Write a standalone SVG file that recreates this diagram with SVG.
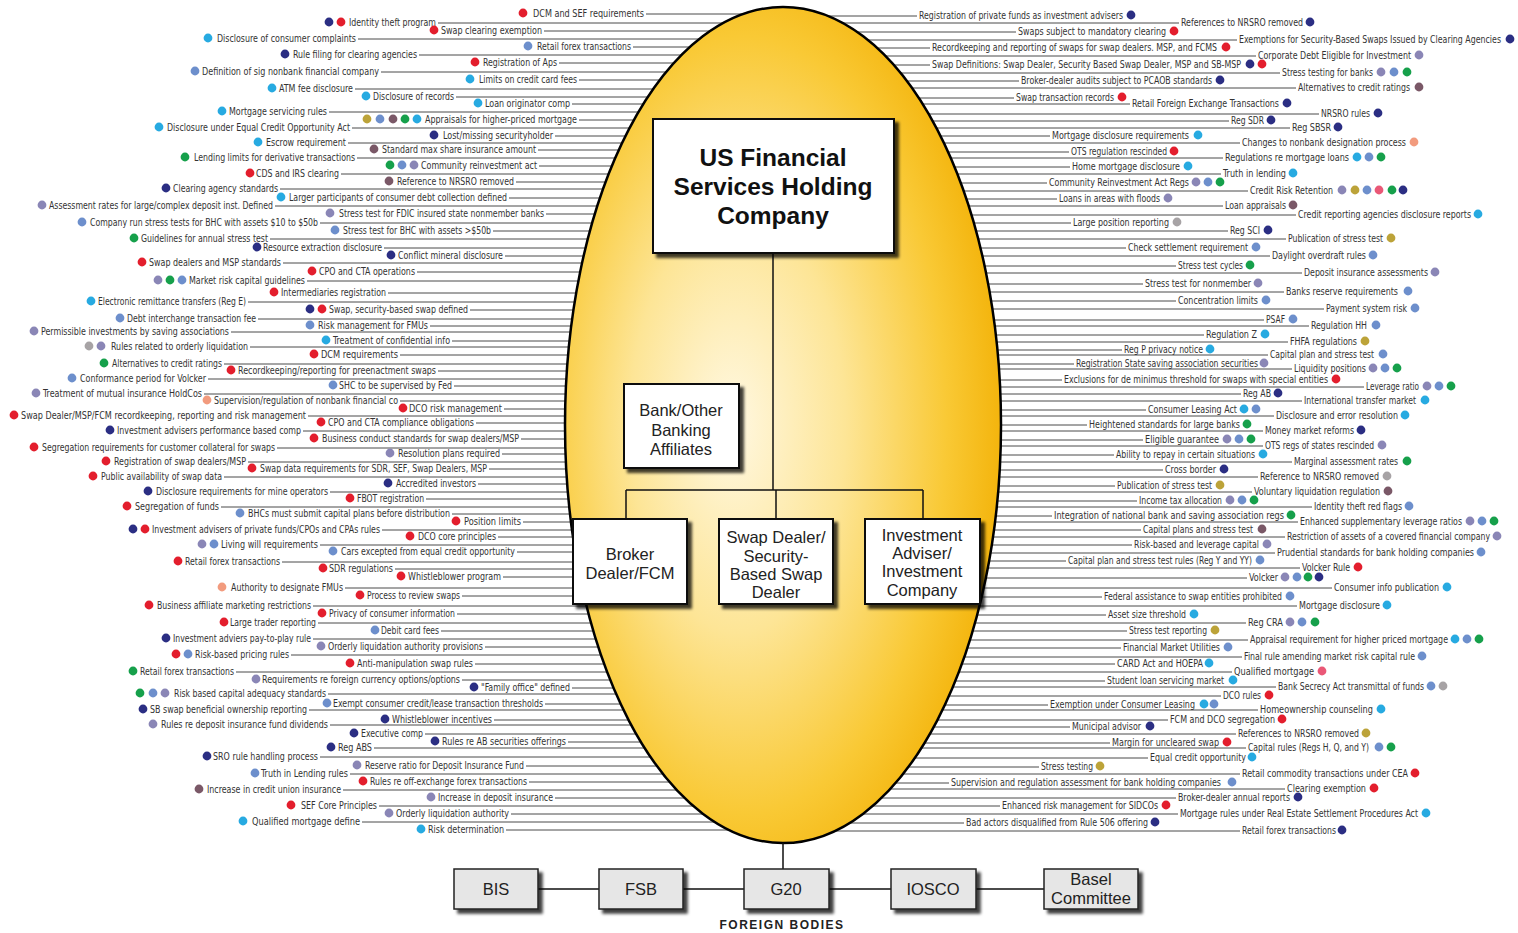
<svg xmlns="http://www.w3.org/2000/svg" width="1518" height="933" viewBox="0 0 1518 933">
<defs>
<radialGradient id="eggG" cx="0.42" cy="0.5" r="0.62" fx="0.38" fy="0.5">
<stop offset="0" stop-color="#FFF8E2"/>
<stop offset="0.4" stop-color="#FDE596"/>
<stop offset="0.75" stop-color="#F9C935"/>
<stop offset="1" stop-color="#F2AE00"/>
</radialGradient>
<filter id="sh" x="-10%" y="-10%" width="130%" height="130%">
<feDropShadow dx="4" dy="4" stdDeviation="1.8" flood-color="#000" flood-opacity="0.75"/>
</filter>
<style>
.lb text{font-family:"Liberation Sans Narrow","DejaVu Sans Condensed","Liberation Sans",sans-serif;font-size:10.5px;fill:#333;}
.r{fill:#E31E2D}.n{fill:#2B2E83}.c{fill:#27AAE1}.p{fill:#6D8FCC}.l{fill:#8A86B6}.g{fill:#16A04B}.m{fill:#7A5867}.o{fill:#BCA339}.y{fill:#A7A3A5}.s{fill:#F29B7E}.k{fill:#EA5877}
.lb circle{r:4.4px}
.cn{stroke:#4a4a4a;stroke-width:1;fill:none}
.org{stroke:#111;stroke-width:1.5;fill:none}
.box{fill:#fff;stroke:#111;stroke-width:2;filter:url(#sh)}
.fb{fill:#E6E6E6;stroke:#222;stroke-width:1.5;filter:url(#sh)}
.bt{font-family:"Liberation Sans",Arial,sans-serif;font-size:16.5px;fill:#222;text-anchor:middle}
.ht{font-family:"Liberation Sans",Arial,sans-serif;font-size:24.5px;font-weight:bold;fill:#111;text-anchor:middle}
</style>
</defs>
<rect width="1518" height="933" fill="#fff"/>
<g id="connectors" class="cn">
<path d="M646 14H783M438 23H783M544 31H783M358 39H783M633 47H783M419 55H783M559 63H783M381 72H783M579 80H783M355 89H783M456 97H783M572 104H783M329 112H783M579 120H783M352 128H783M555 136H783M348 143H783M538 150H783M357 158H783M539 166H783M341 174H783M516 182H783M280 189H783M509 198H783M275 206H783M546 214H783M320 223H783M493 231H783M270 239H783M384 248H783M505 256H783M283 263H783M417 272H783M307 281H783M388 293H783M248 302H783M470 310H783M258 319H783M430 326H783M231 332H783M452 341H783M250 347H783M400 355H783M224 364H783M438 371H783M208 379H783M454 386H783M204 394H783M400 401H783M504 409H783M308 416H783M476 423H783M303 431H783M521 439H783M277 448H783M502 454H783M248 462H783M489 469H783M224 477H783M478 484H783M330 492H783M426 499H783M221 507H783M452 514H783M523 522H783M382 530H783M498 537H783M320 545H783M517 552H783M282 562H783M395 569H783M503 577H783M345 588H783M462 596H783M313 606H783M457 614H783M318 623H783M441 631H783M313 639H783M485 647H783M291 655H783M475 664H783M236 672H783M462 680H783M572 688H783M328 694H783M545 704H783M309 710H783M494 720H783M330 725H783M425 734H783M568 742H783M374 748H783M320 757H783M526 766H783M350 774H783M529 782H783M343 790H783M555 798H783M379 806H783M511 814H783M362 822H783M506 830H783"/>
<path d="M783 16H917M783 23H1179M783 32H1016M783 40H1237M783 48H930M783 56H1256M783 65H930M783 73H1280M783 81H1019M783 88H1296M783 98H1014M783 104H1130M783 114H1319M783 121H1229M783 128H1290M783 136H1050M783 143H1240M783 152H1069M783 158H1223M783 167H1070M783 174H1221M783 183H1047M783 191H1248M783 199H1057M783 206H1223M783 215H1296M783 223H1071M783 231H1228M783 239H1286M783 248H1126M783 256H1270M783 266H1176M783 273H1302M783 284H1143M783 292H1284M783 301H1176M783 309H1324M783 320H1264M783 326H1309M783 335H1204M783 342H1288M783 350H1122M783 355H1268M783 364H1074M783 369H1292M783 380H1062M783 387H1364M783 394H1241M783 401H1302M783 410H1146M783 416H1274M783 425H1087M783 431H1263M783 440H1143M783 446H1263M783 455H1114M783 462H1292M783 470H1163M783 477H1258M783 486H1115M783 492H1252M783 501H1137M783 507H1312M783 516H1052M783 522H1298M783 530H1141M783 537H1285M783 545H1132M783 553H1275M783 561H1066M783 568H1300M783 578H1247M783 588H1332M783 597H1102M783 606H1297M783 615H1106M783 623H1246M783 631H1127M783 640H1248M783 648H1121M783 657H1242M783 664H1115M783 672H1232M783 681H1105M783 687H1276M783 696H1221M783 705H1048M783 710H1258M783 720H1168M783 727H1070M783 734H1236M783 743H1110M783 748H1246M783 758H1148M783 767H1039M783 774H1240M783 783H949M783 789H1285M783 798H1176M783 806H1000M783 814H1178M783 823H964M783 831H1240"/>
</g>
<g id="egg"><ellipse cx="783" cy="425" rx="218" ry="418" fill="url(#eggG)" stroke="#000" stroke-width="2.5"/></g>
<g id="org-connectors" class="org">
<path d="M773 253V490M626 490H923M626 490V519M776 490V519M923 490V519"/>
<path d="M783 843V869M538 889H599M683 889H744M829 889H891M976 889H1044"/>
</g>
<g id="holding"><rect class="box" x="653" y="119" width="241" height="134"/><text class="ht" x="773" y="166">US Financial</text><text class="ht" x="773" y="195">Services Holding</text><text class="ht" x="773" y="224">Company</text></g>
<g id="bank"><rect class="box" x="624" y="384" width="115" height="84"/><text class="bt" x="681" y="416">Bank/Other</text><text class="bt" x="681" y="436">Banking</text><text class="bt" x="681" y="455">Affiliates</text></g>
<g id="broker"><rect class="box" x="573" y="519" width="114" height="85"/><text class="bt" x="630" y="560">Broker</text><text class="bt" x="630" y="579">Dealer/FCM</text></g>
<g id="swap"><rect class="box" x="719" y="519" width="114" height="85"/><text class="bt" x="776" y="543">Swap Dealer/</text><text class="bt" x="776" y="562">Security-</text><text class="bt" x="776" y="580">Based Swap</text><text class="bt" x="776" y="598">Dealer</text></g>
<g id="invest"><rect class="box" x="865" y="519" width="115" height="85"/><text class="bt" x="922" y="541">Investment</text><text class="bt" x="922" y="559">Adviser/</text><text class="bt" x="922" y="577">Investment</text><text class="bt" x="922" y="596">Company</text></g>
<g id="bis"><rect class="fb" x="454" y="869" width="84" height="40"/><text class="bt" x="496" y="895">BIS</text></g>
<g id="fsb"><rect class="fb" x="599" y="869" width="84" height="40"/><text class="bt" x="641" y="895">FSB</text></g>
<g id="g20"><rect class="fb" x="744" y="869" width="85" height="40"/><text class="bt" x="786" y="895">G20</text></g>
<g id="iosco"><rect class="fb" x="891" y="869" width="85" height="40"/><text class="bt" x="933" y="895">IOSCO</text></g>
<g id="basel"><rect class="fb" x="1044" y="869" width="94" height="40"/><text class="bt" x="1091" y="885">Basel</text><text class="bt" x="1091" y="904">Committee</text></g>
<text x="782" y="929" text-anchor="middle" font-family="Liberation Sans,Arial,sans-serif" font-weight="bold" font-size="12" letter-spacing="1.5" fill="#222">FOREIGN BODIES</text>
<g class="lb">
<g id="L1"><circle class="r" cx="523" cy="13"/><text x="533" y="16.5" textLength="111" lengthAdjust="spacingAndGlyphs">DCM and SEF requirements</text></g>
<g id="L2"><circle class="n" cx="329" cy="22"/><circle class="r" cx="341" cy="22"/><text x="349" y="25.5" textLength="87" lengthAdjust="spacingAndGlyphs">Identity theft program</text></g>
<g id="L3"><circle class="r" cx="434" cy="30"/><text x="441" y="33.5" textLength="101" lengthAdjust="spacingAndGlyphs">Swap clearing exemption</text></g>
<g id="L4"><circle class="c" cx="208" cy="38"/><text x="217" y="41.5" textLength="139" lengthAdjust="spacingAndGlyphs">Disclosure of consumer complaints</text></g>
<g id="L5"><circle class="p" cx="528" cy="46"/><text x="537" y="49.5" textLength="94" lengthAdjust="spacingAndGlyphs">Retail forex transactions</text></g>
<g id="L6"><circle class="n" cx="285" cy="54"/><text x="293" y="57.5" textLength="124" lengthAdjust="spacingAndGlyphs">Rule filing for clearing agencies</text></g>
<g id="L7"><circle class="r" cx="475" cy="62"/><text x="483" y="65.5" textLength="74" lengthAdjust="spacingAndGlyphs">Registration of Aps</text></g>
<g id="L8"><circle class="p" cx="195" cy="71"/><text x="202" y="74.5" textLength="177" lengthAdjust="spacingAndGlyphs">Definition of sig nonbank financial company</text></g>
<g id="L9"><circle class="c" cx="470" cy="79"/><text x="479" y="82.5" textLength="98" lengthAdjust="spacingAndGlyphs">Limits on credit card fees</text></g>
<g id="L10"><circle class="c" cx="272" cy="88"/><text x="279" y="91.5" textLength="74" lengthAdjust="spacingAndGlyphs">ATM fee disclosure</text></g>
<g id="L11"><circle class="c" cx="366" cy="96"/><text x="373" y="99.5" textLength="81" lengthAdjust="spacingAndGlyphs">Disclosure of records</text></g>
<g id="L12"><circle class="c" cx="478" cy="103"/><text x="485" y="106.5" textLength="85" lengthAdjust="spacingAndGlyphs">Loan originator comp</text></g>
<g id="L13"><circle class="c" cx="222" cy="111"/><text x="229" y="114.5" textLength="98" lengthAdjust="spacingAndGlyphs">Mortgage servicing rules</text></g>
<g id="L14"><circle class="o" cx="367" cy="119"/><circle class="p" cx="380" cy="119"/><circle class="m" cx="393" cy="119"/><circle class="g" cx="405" cy="119"/><circle class="c" cx="417" cy="119"/><text x="425" y="122.5" textLength="152" lengthAdjust="spacingAndGlyphs">Appraisals for higher-priced mortgage</text></g>
<g id="L15"><circle class="c" cx="159" cy="127"/><text x="167" y="130.5" textLength="183" lengthAdjust="spacingAndGlyphs">Disclosure under Equal Credit Opportunity Act</text></g>
<g id="L16"><circle class="n" cx="434" cy="135"/><text x="443" y="138.5" textLength="110" lengthAdjust="spacingAndGlyphs">Lost/missing securityholder</text></g>
<g id="L17"><circle class="c" cx="258" cy="142"/><text x="266" y="145.5" textLength="80" lengthAdjust="spacingAndGlyphs">Escrow requirement</text></g>
<g id="L18"><circle class="m" cx="374" cy="149"/><text x="382" y="152.5" textLength="154" lengthAdjust="spacingAndGlyphs">Standard max share insurance amount</text></g>
<g id="L19"><circle class="g" cx="185" cy="157"/><text x="194" y="160.5" textLength="161" lengthAdjust="spacingAndGlyphs">Lending limits for derivative transactions</text></g>
<g id="L20"><circle class="g" cx="390" cy="165"/><circle class="p" cx="402" cy="165"/><circle class="l" cx="414" cy="165"/><text x="421" y="168.5" textLength="116" lengthAdjust="spacingAndGlyphs">Community reinvestment act</text></g>
<g id="L21"><circle class="r" cx="250" cy="173"/><text x="256" y="176.5" textLength="83" lengthAdjust="spacingAndGlyphs">CDS and IRS clearing</text></g>
<g id="L22"><circle class="m" cx="389" cy="181"/><text x="397" y="184.5" textLength="117" lengthAdjust="spacingAndGlyphs">Reference to NRSRO removed</text></g>
<g id="L23"><circle class="n" cx="166" cy="188"/><text x="173" y="191.5" textLength="105" lengthAdjust="spacingAndGlyphs">Clearing agency standards</text></g>
<g id="L24"><circle class="c" cx="281" cy="197"/><text x="289" y="200.5" textLength="218" lengthAdjust="spacingAndGlyphs">Larger participants of consumer debt collection defined</text></g>
<g id="L25"><circle class="l" cx="42" cy="205"/><text x="49" y="208.5" textLength="224" lengthAdjust="spacingAndGlyphs">Assessment rates for large/complex deposit inst. Defined</text></g>
<g id="L26"><circle class="l" cx="330" cy="213"/><text x="339" y="216.5" textLength="205" lengthAdjust="spacingAndGlyphs">Stress test for FDIC insured state nonmember banks</text></g>
<g id="L27"><circle class="p" cx="82" cy="222"/><text x="90" y="225.5" textLength="228" lengthAdjust="spacingAndGlyphs">Company run stress tests for BHC with assets $10 to $50b</text></g>
<g id="L28"><circle class="p" cx="335" cy="230"/><text x="343" y="233.5" textLength="148" lengthAdjust="spacingAndGlyphs">Stress test for BHC with assets &gt;$50b</text></g>
<g id="L29"><circle class="g" cx="134" cy="238"/><text x="141" y="241.5" textLength="127" lengthAdjust="spacingAndGlyphs">Guidelines for annual stress test</text></g>
<g id="L30"><circle class="n" cx="257" cy="247"/><text x="263" y="250.5" textLength="119" lengthAdjust="spacingAndGlyphs">Resource extraction disclosure</text></g>
<g id="L31"><circle class="n" cx="391" cy="255"/><text x="398" y="258.5" textLength="105" lengthAdjust="spacingAndGlyphs">Conflict mineral disclosure</text></g>
<g id="L32"><circle class="r" cx="142" cy="262"/><text x="149" y="265.5" textLength="132" lengthAdjust="spacingAndGlyphs">Swap dealers and MSP standards</text></g>
<g id="L33"><circle class="r" cx="312" cy="271"/><text x="319" y="274.5" textLength="96" lengthAdjust="spacingAndGlyphs">CPO and CTA operations</text></g>
<g id="L34"><circle class="l" cx="158" cy="280"/><circle class="g" cx="170" cy="280"/><circle class="p" cx="182" cy="280"/><text x="189" y="283.5" textLength="116" lengthAdjust="spacingAndGlyphs">Market risk capital guidelines</text></g>
<g id="L35"><circle class="r" cx="274" cy="292"/><text x="281" y="295.5" textLength="105" lengthAdjust="spacingAndGlyphs">Intermediaries registration</text></g>
<g id="L36"><circle class="c" cx="91" cy="301"/><text x="98" y="304.5" textLength="148" lengthAdjust="spacingAndGlyphs">Electronic remittance transfers (Reg E)</text></g>
<g id="L37"><circle class="n" cx="310" cy="309"/><circle class="r" cx="322" cy="309"/><text x="329" y="312.5" textLength="139" lengthAdjust="spacingAndGlyphs">Swap, security-based swap defined</text></g>
<g id="L38"><circle class="p" cx="120" cy="318"/><text x="127" y="321.5" textLength="129" lengthAdjust="spacingAndGlyphs">Debt interchange transaction fee</text></g>
<g id="L39"><circle class="p" cx="310" cy="325"/><text x="318" y="328.5" textLength="110" lengthAdjust="spacingAndGlyphs">Risk management for FMUs</text></g>
<g id="L40"><circle class="l" cx="34" cy="331"/><text x="41" y="334.5" textLength="188" lengthAdjust="spacingAndGlyphs">Permissible investments by saving associations</text></g>
<g id="L41"><circle class="c" cx="326" cy="340"/><text x="333" y="343.5" textLength="117" lengthAdjust="spacingAndGlyphs">Treatment of confidential info</text></g>
<g id="L42"><circle class="y" cx="89" cy="346"/><circle class="l" cx="101" cy="346"/><text x="111" y="349.5" textLength="137" lengthAdjust="spacingAndGlyphs">Rules related to orderly liquidation</text></g>
<g id="L43"><circle class="r" cx="314" cy="354"/><text x="321" y="357.5" textLength="77" lengthAdjust="spacingAndGlyphs">DCM requirements</text></g>
<g id="L44"><circle class="g" cx="104" cy="363"/><text x="112" y="366.5" textLength="110" lengthAdjust="spacingAndGlyphs">Alternatives to credit ratings</text></g>
<g id="L45"><circle class="r" cx="231" cy="370"/><text x="238" y="373.5" textLength="198" lengthAdjust="spacingAndGlyphs">Recordkeeping/reporting for preenactment swaps</text></g>
<g id="L46"><circle class="p" cx="72" cy="378"/><text x="80" y="381.5" textLength="126" lengthAdjust="spacingAndGlyphs">Conformance period for Volcker</text></g>
<g id="L47"><circle class="p" cx="333" cy="385"/><text x="339" y="388.5" textLength="113" lengthAdjust="spacingAndGlyphs">SHC to be supervised by Fed</text></g>
<g id="L48"><circle class="l" cx="36" cy="393"/><text x="43" y="396.5" textLength="159" lengthAdjust="spacingAndGlyphs">Treatment of mutual insurance HoldCos</text></g>
<g id="L49"><circle class="s" cx="207" cy="400"/><text x="214" y="403.5" textLength="184" lengthAdjust="spacingAndGlyphs">Supervision/regulation of nonbank financial co</text></g>
<g id="L50"><circle class="r" cx="403" cy="408"/><text x="409" y="411.5" textLength="93" lengthAdjust="spacingAndGlyphs">DCO risk management</text></g>
<g id="L51"><circle class="r" cx="14" cy="415"/><text x="21" y="418.5" textLength="285" lengthAdjust="spacingAndGlyphs">Swap Dealer/MSP/FCM recordkeeping, reporting and risk management</text></g>
<g id="L52"><circle class="r" cx="321" cy="422"/><text x="328" y="425.5" textLength="146" lengthAdjust="spacingAndGlyphs">CPO and CTA compliance obligations</text></g>
<g id="L53"><circle class="n" cx="110" cy="430"/><text x="117" y="433.5" textLength="184" lengthAdjust="spacingAndGlyphs">Investment advisers performance based comp</text></g>
<g id="L54"><circle class="r" cx="314" cy="438"/><text x="322" y="441.5" textLength="197" lengthAdjust="spacingAndGlyphs">Business conduct standards for swap dealers/MSP</text></g>
<g id="L55"><circle class="r" cx="34" cy="447"/><text x="42" y="450.5" textLength="233" lengthAdjust="spacingAndGlyphs">Segregation requirements for customer collateral for swaps</text></g>
<g id="L56"><circle class="l" cx="390" cy="453"/><text x="398" y="456.5" textLength="102" lengthAdjust="spacingAndGlyphs">Resolution plans required</text></g>
<g id="L57"><circle class="r" cx="106" cy="461"/><text x="114" y="464.5" textLength="132" lengthAdjust="spacingAndGlyphs">Registration of swap dealers/MSP</text></g>
<g id="L58"><circle class="r" cx="252" cy="468"/><text x="260" y="471.5" textLength="227" lengthAdjust="spacingAndGlyphs">Swap data requirements for SDR, SEF, Swap Dealers, MSP</text></g>
<g id="L59"><circle class="r" cx="93" cy="476"/><text x="101" y="479.5" textLength="121" lengthAdjust="spacingAndGlyphs">Public availability of swap data</text></g>
<g id="L60"><circle class="n" cx="388" cy="483"/><text x="396" y="486.5" textLength="80" lengthAdjust="spacingAndGlyphs">Accredited investors</text></g>
<g id="L61"><circle class="n" cx="148" cy="491"/><text x="156" y="494.5" textLength="172" lengthAdjust="spacingAndGlyphs">Disclosure requirements for mine operators</text></g>
<g id="L62"><circle class="r" cx="350" cy="498"/><text x="357" y="501.5" textLength="67" lengthAdjust="spacingAndGlyphs">FBOT registration</text></g>
<g id="L63"><circle class="r" cx="127" cy="506"/><text x="135" y="509.5" textLength="84" lengthAdjust="spacingAndGlyphs">Segregation of funds</text></g>
<g id="L64"><circle class="p" cx="240" cy="513"/><text x="248" y="516.5" textLength="202" lengthAdjust="spacingAndGlyphs">BHCs must submit capital plans before distribution</text></g>
<g id="L65"><circle class="r" cx="456" cy="521"/><text x="464" y="524.5" textLength="57" lengthAdjust="spacingAndGlyphs">Position limits</text></g>
<g id="L66"><circle class="n" cx="133" cy="529"/><circle class="r" cx="145" cy="529"/><text x="152" y="532.5" textLength="228" lengthAdjust="spacingAndGlyphs">Investment advisers of private funds/CPOs and CPAs rules</text></g>
<g id="L67"><circle class="r" cx="410" cy="536"/><text x="418" y="539.5" textLength="78" lengthAdjust="spacingAndGlyphs">DCO core principles</text></g>
<g id="L68"><circle class="l" cx="202" cy="544"/><circle class="p" cx="214" cy="544"/><text x="221" y="547.5" textLength="97" lengthAdjust="spacingAndGlyphs">Living will requirements</text></g>
<g id="L69"><circle class="p" cx="333" cy="551"/><text x="341" y="554.5" textLength="174" lengthAdjust="spacingAndGlyphs">Cars excepted from equal credit opportunity</text></g>
<g id="L70"><circle class="r" cx="178" cy="561"/><text x="185" y="564.5" textLength="95" lengthAdjust="spacingAndGlyphs">Retail forex transactions</text></g>
<g id="L71"><circle class="r" cx="323" cy="568"/><text x="329" y="571.5" textLength="64" lengthAdjust="spacingAndGlyphs">SDR regulations</text></g>
<g id="L72"><circle class="r" cx="401" cy="576"/><text x="408" y="579.5" textLength="93" lengthAdjust="spacingAndGlyphs">Whistleblower program</text></g>
<g id="L73"><circle class="s" cx="222" cy="587"/><text x="231" y="590.5" textLength="112" lengthAdjust="spacingAndGlyphs">Authority to designate FMUs</text></g>
<g id="L74"><circle class="r" cx="360" cy="595"/><text x="367" y="598.5" textLength="93" lengthAdjust="spacingAndGlyphs">Process to review swaps</text></g>
<g id="L75"><circle class="r" cx="149" cy="605"/><text x="157" y="608.5" textLength="154" lengthAdjust="spacingAndGlyphs">Business affiliate marketing restrictions</text></g>
<g id="L76"><circle class="r" cx="322" cy="613"/><text x="329" y="616.5" textLength="126" lengthAdjust="spacingAndGlyphs">Privacy of consumer information</text></g>
<g id="L77"><circle class="r" cx="224" cy="622"/><text x="230" y="625.5" textLength="86" lengthAdjust="spacingAndGlyphs">Large trader reporting</text></g>
<g id="L78"><circle class="p" cx="375" cy="630"/><text x="381" y="633.5" textLength="58" lengthAdjust="spacingAndGlyphs">Debit card fees</text></g>
<g id="L79"><circle class="n" cx="166" cy="638"/><text x="173" y="641.5" textLength="138" lengthAdjust="spacingAndGlyphs">Investment adviers pay-to-play rule</text></g>
<g id="L80"><circle class="l" cx="321" cy="646"/><text x="328" y="649.5" textLength="155" lengthAdjust="spacingAndGlyphs">Orderly liquidation authority provisions</text></g>
<g id="L81"><circle class="r" cx="176" cy="654"/><circle class="p" cx="188" cy="654"/><text x="195" y="657.5" textLength="94" lengthAdjust="spacingAndGlyphs">Risk-based pricing rules</text></g>
<g id="L82"><circle class="r" cx="350" cy="663"/><text x="357" y="666.5" textLength="116" lengthAdjust="spacingAndGlyphs">Anti-manipulation swap rules</text></g>
<g id="L83"><circle class="g" cx="133" cy="671"/><text x="140" y="674.5" textLength="94" lengthAdjust="spacingAndGlyphs">Retail forex transactions</text></g>
<g id="L84"><circle class="l" cx="256" cy="679"/><text x="262" y="682.5" textLength="198" lengthAdjust="spacingAndGlyphs">Requirements re foreign currency options/options</text></g>
<g id="L85"><circle class="n" cx="474" cy="687"/><text x="481" y="690.5" textLength="89" lengthAdjust="spacingAndGlyphs">"Family office" defined</text></g>
<g id="L86"><circle class="g" cx="140" cy="693"/><circle class="p" cx="153" cy="693"/><circle class="l" cx="165" cy="693"/><text x="174" y="696.5" textLength="152" lengthAdjust="spacingAndGlyphs">Risk based capital adequacy standards</text></g>
<g id="L87"><circle class="p" cx="327" cy="703"/><text x="333" y="706.5" textLength="210" lengthAdjust="spacingAndGlyphs">Exempt consumer credit/lease transaction thresholds</text></g>
<g id="L88"><circle class="n" cx="143" cy="709"/><text x="150" y="712.5" textLength="157" lengthAdjust="spacingAndGlyphs">SB swap beneficial ownership reporting</text></g>
<g id="L89"><circle class="n" cx="385" cy="719"/><text x="392" y="722.5" textLength="100" lengthAdjust="spacingAndGlyphs">Whistleblower incentives</text></g>
<g id="L90"><circle class="l" cx="153" cy="724"/><text x="161" y="727.5" textLength="167" lengthAdjust="spacingAndGlyphs">Rules re deposit insurance fund dividends</text></g>
<g id="L91"><circle class="n" cx="354" cy="733"/><text x="361" y="736.5" textLength="62" lengthAdjust="spacingAndGlyphs">Executive comp</text></g>
<g id="L92"><circle class="n" cx="435" cy="741"/><text x="442" y="744.5" textLength="124" lengthAdjust="spacingAndGlyphs">Rules re AB securities offerings</text></g>
<g id="L93"><circle class="n" cx="331" cy="747"/><text x="338" y="750.5" textLength="34" lengthAdjust="spacingAndGlyphs">Reg ABS</text></g>
<g id="L94"><circle class="n" cx="207" cy="756"/><text x="213" y="759.5" textLength="105" lengthAdjust="spacingAndGlyphs">SRO rule handling process</text></g>
<g id="L95"><circle class="l" cx="357" cy="765"/><text x="365" y="768.5" textLength="159" lengthAdjust="spacingAndGlyphs">Reserve ratio for Deposit Insurance Fund</text></g>
<g id="L96"><circle class="p" cx="255" cy="773"/><text x="261" y="776.5" textLength="87" lengthAdjust="spacingAndGlyphs">Truth in Lending rules</text></g>
<g id="L97"><circle class="r" cx="363" cy="781"/><text x="370" y="784.5" textLength="157" lengthAdjust="spacingAndGlyphs">Rules re off-exchange forex transactions</text></g>
<g id="L98"><circle class="m" cx="199" cy="789"/><text x="207" y="792.5" textLength="134" lengthAdjust="spacingAndGlyphs">Increase in credit union insurance</text></g>
<g id="L99"><circle class="l" cx="431" cy="797"/><text x="438" y="800.5" textLength="115" lengthAdjust="spacingAndGlyphs">Increase in deposit insurance</text></g>
<g id="L100"><circle class="r" cx="291" cy="805"/><text x="301" y="808.5" textLength="76" lengthAdjust="spacingAndGlyphs">SEF Core Principles</text></g>
<g id="L101"><circle class="l" cx="389" cy="813"/><text x="396" y="816.5" textLength="113" lengthAdjust="spacingAndGlyphs">Orderly liquidation authority</text></g>
<g id="L102"><circle class="c" cx="243" cy="821"/><text x="252" y="824.5" textLength="108" lengthAdjust="spacingAndGlyphs">Qualified mortgage define</text></g>
<g id="L103"><circle class="c" cx="421" cy="829"/><text x="428" y="832.5" textLength="76" lengthAdjust="spacingAndGlyphs">Risk determination</text></g>

<g id="R1"><text x="919" y="18.5" textLength="204" lengthAdjust="spacingAndGlyphs">Registration of private funds as investment advisers</text><circle class="n" cx="1131" cy="15"/></g>
<g id="R2"><text x="1181" y="25.5" textLength="122" lengthAdjust="spacingAndGlyphs">References to NRSRO removed</text><circle class="n" cx="1310" cy="22"/></g>
<g id="R3"><text x="1018" y="34.5" textLength="148" lengthAdjust="spacingAndGlyphs">Swaps subject to mandatory clearing</text><circle class="r" cx="1174" cy="31"/></g>
<g id="R4"><text x="1239" y="42.5" textLength="262" lengthAdjust="spacingAndGlyphs">Exemptions for Security-Based Swaps Issued by Clearing Agencies</text><circle class="n" cx="1510" cy="39"/></g>
<g id="R5"><text x="932" y="50.5" textLength="285" lengthAdjust="spacingAndGlyphs">Recordkeeping and reporting of swaps for swap dealers. MSP, and FCMS</text><circle class="r" cx="1226" cy="47"/></g>
<g id="R6"><text x="1258" y="58.5" textLength="153" lengthAdjust="spacingAndGlyphs">Corporate Debt Eligible for Investment</text><circle class="l" cx="1419" cy="55"/></g>
<g id="R7"><text x="932" y="67.5" textLength="309" lengthAdjust="spacingAndGlyphs">Swap Definitions: Swap Dealer, Security Based Swap Dealer, MSP and SB-MSP</text><circle class="n" cx="1250" cy="64"/><circle class="r" cx="1262" cy="64"/></g>
<g id="R8"><text x="1282" y="75.5" textLength="91" lengthAdjust="spacingAndGlyphs">Stress testing for banks</text><circle class="l" cx="1381" cy="72"/><circle class="p" cx="1394" cy="72"/><circle class="g" cx="1407" cy="72"/></g>
<g id="R9"><text x="1021" y="83.5" textLength="191" lengthAdjust="spacingAndGlyphs">Broker-dealer audits subject to PCAOB standards</text><circle class="n" cx="1220" cy="80"/></g>
<g id="R10"><text x="1298" y="90.5" textLength="112" lengthAdjust="spacingAndGlyphs">Alternatives to credit ratings</text><circle class="m" cx="1419" cy="87"/></g>
<g id="R11"><text x="1016" y="100.5" textLength="98" lengthAdjust="spacingAndGlyphs">Swap transaction records</text><circle class="r" cx="1122" cy="97"/></g>
<g id="R12"><text x="1132" y="106.5" textLength="147" lengthAdjust="spacingAndGlyphs">Retail Foreign Exchange Transactions</text><circle class="n" cx="1287" cy="103"/></g>
<g id="R13"><text x="1321" y="116.5" textLength="49" lengthAdjust="spacingAndGlyphs">NRSRO rules</text><circle class="n" cx="1378" cy="113"/></g>
<g id="R14"><text x="1231" y="123.5" textLength="33" lengthAdjust="spacingAndGlyphs">Reg SDR</text><circle class="n" cx="1271" cy="120"/></g>
<g id="R15"><text x="1292" y="130.5" textLength="39" lengthAdjust="spacingAndGlyphs">Reg SBSR</text><circle class="n" cx="1338" cy="127"/></g>
<g id="R16"><text x="1052" y="138.5" textLength="137" lengthAdjust="spacingAndGlyphs">Mortgage disclosure requirements</text><circle class="c" cx="1198" cy="135"/></g>
<g id="R17"><text x="1242" y="145.5" textLength="164" lengthAdjust="spacingAndGlyphs">Changes to nonbank designation process</text><circle class="s" cx="1414" cy="142"/></g>
<g id="R18"><text x="1071" y="154.5" textLength="96" lengthAdjust="spacingAndGlyphs">OTS regulation rescinded</text><circle class="r" cx="1174" cy="151"/></g>
<g id="R19"><text x="1225" y="160.5" textLength="124" lengthAdjust="spacingAndGlyphs">Regulations re mortgage loans</text><circle class="c" cx="1357" cy="157"/><circle class="p" cx="1369" cy="157"/><circle class="g" cx="1381" cy="157"/></g>
<g id="R20"><text x="1072" y="169.5" textLength="108" lengthAdjust="spacingAndGlyphs">Home mortgage disclosure</text><circle class="c" cx="1188" cy="166"/></g>
<g id="R21"><text x="1223" y="176.5" textLength="63" lengthAdjust="spacingAndGlyphs">Truth in lending</text><circle class="c" cx="1293" cy="173"/></g>
<g id="R22"><text x="1049" y="185.5" textLength="140" lengthAdjust="spacingAndGlyphs">Community Reinvestment Act Regs</text><circle class="l" cx="1196" cy="182"/><circle class="p" cx="1208" cy="182"/><circle class="g" cx="1220" cy="182"/></g>
<g id="R23"><text x="1250" y="193.5" textLength="83" lengthAdjust="spacingAndGlyphs">Credit Risk Retention</text><circle class="l" cx="1342" cy="190"/><circle class="o" cx="1355" cy="190"/><circle class="p" cx="1367" cy="190"/><circle class="k" cx="1379" cy="190"/><circle class="g" cx="1392" cy="190"/><circle class="n" cx="1403" cy="190"/></g>
<g id="R24"><text x="1059" y="201.5" textLength="101" lengthAdjust="spacingAndGlyphs">Loans in areas with floods</text><circle class="l" cx="1168" cy="198"/></g>
<g id="R25"><text x="1225" y="208.5" textLength="61" lengthAdjust="spacingAndGlyphs">Loan appraisals</text><circle class="m" cx="1293" cy="205"/></g>
<g id="R26"><text x="1298" y="217.5" textLength="173" lengthAdjust="spacingAndGlyphs">Credit reporting agencies disclosure reports</text><circle class="c" cx="1478" cy="214"/></g>
<g id="R27"><text x="1073" y="225.5" textLength="96" lengthAdjust="spacingAndGlyphs">Large position reporting</text><circle class="y" cx="1177" cy="222"/></g>
<g id="R28"><text x="1230" y="233.5" textLength="30" lengthAdjust="spacingAndGlyphs">Reg SCI</text><circle class="n" cx="1268" cy="230"/></g>
<g id="R29"><text x="1288" y="241.5" textLength="95" lengthAdjust="spacingAndGlyphs">Publication of stress test</text><circle class="o" cx="1391" cy="238"/></g>
<g id="R30"><text x="1128" y="250.5" textLength="120" lengthAdjust="spacingAndGlyphs">Check settlement requirement</text><circle class="p" cx="1256" cy="247"/></g>
<g id="R31"><text x="1272" y="258.5" textLength="94" lengthAdjust="spacingAndGlyphs">Daylight overdraft rules</text><circle class="p" cx="1373" cy="255"/></g>
<g id="R32"><text x="1178" y="268.5" textLength="65" lengthAdjust="spacingAndGlyphs">Stress test cycles</text><circle class="g" cx="1250" cy="265"/></g>
<g id="R33"><text x="1304" y="275.5" textLength="124" lengthAdjust="spacingAndGlyphs">Deposit insurance assessments</text><circle class="l" cx="1435" cy="272"/></g>
<g id="R34"><text x="1145" y="286.5" textLength="106" lengthAdjust="spacingAndGlyphs">Stress test for nonmember</text><circle class="l" cx="1258" cy="283"/></g>
<g id="R35"><text x="1286" y="294.5" textLength="112" lengthAdjust="spacingAndGlyphs">Banks reserve requirements</text><circle class="p" cx="1408" cy="291"/></g>
<g id="R36"><text x="1178" y="303.5" textLength="80" lengthAdjust="spacingAndGlyphs">Concentration limits</text><circle class="p" cx="1266" cy="300"/></g>
<g id="R37"><text x="1326" y="311.5" textLength="81" lengthAdjust="spacingAndGlyphs">Payment system risk</text><circle class="p" cx="1415" cy="308"/></g>
<g id="R38"><text x="1266" y="322.5" textLength="19" lengthAdjust="spacingAndGlyphs">PSAF</text><circle class="p" cx="1293" cy="319"/></g>
<g id="R39"><text x="1311" y="328.5" textLength="56" lengthAdjust="spacingAndGlyphs">Regulation HH</text><circle class="p" cx="1376" cy="325"/></g>
<g id="R40"><text x="1206" y="337.5" textLength="51" lengthAdjust="spacingAndGlyphs">Regulation Z</text><circle class="c" cx="1265" cy="334"/></g>
<g id="R41"><text x="1290" y="344.5" textLength="67" lengthAdjust="spacingAndGlyphs">FHFA regulations</text><circle class="o" cx="1365" cy="341"/></g>
<g id="R42"><text x="1124" y="352.5" textLength="79" lengthAdjust="spacingAndGlyphs">Reg P privacy notice</text><circle class="c" cx="1210" cy="349"/></g>
<g id="R43"><text x="1270" y="357.5" textLength="104" lengthAdjust="spacingAndGlyphs">Capital plan and stress test</text><circle class="p" cx="1383" cy="354"/></g>
<g id="R44"><text x="1076" y="366.5" textLength="182" lengthAdjust="spacingAndGlyphs">Registration State saving association securities</text><circle class="l" cx="1264" cy="363"/></g>
<g id="R45"><text x="1294" y="371.5" textLength="72" lengthAdjust="spacingAndGlyphs">Liquidity positions</text><circle class="l" cx="1373" cy="368"/><circle class="p" cx="1385" cy="368"/><circle class="g" cx="1397" cy="368"/></g>
<g id="R46"><text x="1064" y="382.5" textLength="264" lengthAdjust="spacingAndGlyphs">Exclusions for de minimus threshold for swaps with special entities</text><circle class="r" cx="1336" cy="379"/></g>
<g id="R47"><text x="1366" y="389.5" textLength="53" lengthAdjust="spacingAndGlyphs">Leverage ratio</text><circle class="l" cx="1427" cy="386"/><circle class="p" cx="1439" cy="386"/><circle class="g" cx="1451" cy="386"/></g>
<g id="R48"><text x="1243" y="396.5" textLength="28" lengthAdjust="spacingAndGlyphs">Reg AB</text><circle class="n" cx="1278" cy="393"/></g>
<g id="R49"><text x="1304" y="403.5" textLength="112" lengthAdjust="spacingAndGlyphs">International transfer market</text><circle class="c" cx="1425" cy="400"/></g>
<g id="R50"><text x="1148" y="412.5" textLength="89" lengthAdjust="spacingAndGlyphs">Consumer Leasing Act</text><circle class="c" cx="1244" cy="409"/><circle class="p" cx="1256" cy="409"/></g>
<g id="R51"><text x="1276" y="418.5" textLength="122" lengthAdjust="spacingAndGlyphs">Disclosure and error resolution</text><circle class="c" cx="1405" cy="415"/></g>
<g id="R52"><text x="1089" y="427.5" textLength="151" lengthAdjust="spacingAndGlyphs">Heightened standards for large banks</text><circle class="g" cx="1247" cy="424"/></g>
<g id="R53"><text x="1265" y="433.5" textLength="89" lengthAdjust="spacingAndGlyphs">Money market reforms</text><circle class="n" cx="1361" cy="430"/></g>
<g id="R54"><text x="1145" y="442.5" textLength="74" lengthAdjust="spacingAndGlyphs">Eligible guarantee</text><circle class="l" cx="1227" cy="439"/><circle class="p" cx="1239" cy="439"/><circle class="g" cx="1251" cy="439"/></g>
<g id="R55"><text x="1265" y="448.5" textLength="109" lengthAdjust="spacingAndGlyphs">OTS regs of states rescinded</text><circle class="l" cx="1382" cy="445"/></g>
<g id="R56"><text x="1116" y="457.5" textLength="139" lengthAdjust="spacingAndGlyphs">Ability to repay in certain situations</text><circle class="c" cx="1263" cy="454"/></g>
<g id="R57"><text x="1294" y="464.5" textLength="104" lengthAdjust="spacingAndGlyphs">Marginal assessment rates</text><circle class="g" cx="1407" cy="461"/></g>
<g id="R58"><text x="1165" y="472.5" textLength="51" lengthAdjust="spacingAndGlyphs">Cross border</text><circle class="n" cx="1224" cy="469"/></g>
<g id="R59"><text x="1260" y="479.5" textLength="119" lengthAdjust="spacingAndGlyphs">Reference to NRSRO removed</text><circle class="y" cx="1387" cy="476"/></g>
<g id="R60"><text x="1117" y="488.5" textLength="95" lengthAdjust="spacingAndGlyphs">Publication of stress test</text><circle class="o" cx="1220" cy="485"/></g>
<g id="R61"><text x="1254" y="494.5" textLength="126" lengthAdjust="spacingAndGlyphs">Voluntary liquidation regulation</text><circle class="m" cx="1388" cy="491"/></g>
<g id="R62"><text x="1139" y="503.5" textLength="83" lengthAdjust="spacingAndGlyphs">Income tax allocation</text><circle class="l" cx="1230" cy="500"/><circle class="p" cx="1242" cy="500"/><circle class="g" cx="1254" cy="500"/></g>
<g id="R63"><text x="1314" y="509.5" textLength="88" lengthAdjust="spacingAndGlyphs">Identity theft red flags</text><circle class="p" cx="1409" cy="506"/></g>
<g id="R64"><text x="1054" y="518.5" textLength="230" lengthAdjust="spacingAndGlyphs">Integration of national bank and saving association regs</text><circle class="g" cx="1291" cy="515"/></g>
<g id="R65"><text x="1300" y="524.5" textLength="162" lengthAdjust="spacingAndGlyphs">Enhanced supplementary leverage ratios</text><circle class="l" cx="1470" cy="521"/><circle class="p" cx="1482" cy="521"/><circle class="g" cx="1494" cy="521"/></g>
<g id="R66"><text x="1143" y="532.5" textLength="110" lengthAdjust="spacingAndGlyphs">Capital plans and stress test</text><circle class="m" cx="1262" cy="529"/></g>
<g id="R67"><text x="1287" y="539.5" textLength="203" lengthAdjust="spacingAndGlyphs">Restriction of assets of a covered financial company</text><circle class="l" cx="1497" cy="536"/></g>
<g id="R68"><text x="1134" y="547.5" textLength="125" lengthAdjust="spacingAndGlyphs">Risk-based and leverage capital</text><circle class="l" cx="1267" cy="544"/></g>
<g id="R69"><text x="1277" y="555.5" textLength="197" lengthAdjust="spacingAndGlyphs">Prudential standards for bank holding companies</text><circle class="p" cx="1481" cy="552"/></g>
<g id="R70"><text x="1068" y="563.5" textLength="184" lengthAdjust="spacingAndGlyphs">Capital plan and stress test rules (Reg Y and YY)</text><circle class="p" cx="1260" cy="560"/></g>
<g id="R71"><text x="1302" y="570.5" textLength="48" lengthAdjust="spacingAndGlyphs">Volcker Rule</text><circle class="r" cx="1358" cy="567"/></g>
<g id="R72"><text x="1249" y="580.5" textLength="29" lengthAdjust="spacingAndGlyphs">Volcker</text><circle class="l" cx="1285" cy="577"/><circle class="p" cx="1297" cy="577"/><circle class="g" cx="1308" cy="577"/><circle class="n" cx="1319" cy="577"/></g>
<g id="R73"><text x="1334" y="590.5" textLength="105" lengthAdjust="spacingAndGlyphs">Consumer info publication</text><circle class="c" cx="1447" cy="587"/></g>
<g id="R74"><text x="1104" y="599.5" textLength="178" lengthAdjust="spacingAndGlyphs">Federal assistance to swap entities prohibited</text><circle class="p" cx="1290" cy="596"/></g>
<g id="R75"><text x="1299" y="608.5" textLength="81" lengthAdjust="spacingAndGlyphs">Mortgage disclosure</text><circle class="c" cx="1387" cy="605"/></g>
<g id="R76"><text x="1108" y="617.5" textLength="78" lengthAdjust="spacingAndGlyphs">Asset size threshold</text><circle class="c" cx="1194" cy="614"/></g>
<g id="R77"><text x="1248" y="625.5" textLength="35" lengthAdjust="spacingAndGlyphs">Reg CRA</text><circle class="l" cx="1290" cy="622"/><circle class="p" cx="1302" cy="622"/><circle class="g" cx="1315" cy="622"/></g>
<g id="R78"><text x="1129" y="633.5" textLength="78" lengthAdjust="spacingAndGlyphs">Stress test reporting</text><circle class="o" cx="1215" cy="630"/></g>
<g id="R79"><text x="1250" y="642.5" textLength="198" lengthAdjust="spacingAndGlyphs">Appraisal requirement for higher priced mortgage</text><circle class="c" cx="1455" cy="639"/><circle class="p" cx="1467" cy="639"/><circle class="g" cx="1479" cy="639"/></g>
<g id="R80"><text x="1123" y="650.5" textLength="97" lengthAdjust="spacingAndGlyphs">Financial Market Utilities</text><circle class="p" cx="1228" cy="647"/></g>
<g id="R81"><text x="1244" y="659.5" textLength="171" lengthAdjust="spacingAndGlyphs">Final rule amending market risk capital rule</text><circle class="p" cx="1422" cy="656"/></g>
<g id="R82"><text x="1117" y="666.5" textLength="86" lengthAdjust="spacingAndGlyphs">CARD Act and HOEPA</text><circle class="c" cx="1209" cy="663"/></g>
<g id="R83"><text x="1234" y="674.5" textLength="80" lengthAdjust="spacingAndGlyphs">Qualified mortgage</text><circle class="k" cx="1322" cy="671"/></g>
<g id="R84"><text x="1107" y="683.5" textLength="117" lengthAdjust="spacingAndGlyphs">Student loan servicing market</text><circle class="c" cx="1233" cy="680"/></g>
<g id="R85"><text x="1278" y="689.5" textLength="146" lengthAdjust="spacingAndGlyphs">Bank Secrecy Act transmittal of funds</text><circle class="p" cx="1431" cy="686"/><circle class="y" cx="1443" cy="686"/></g>
<g id="R86"><text x="1223" y="698.5" textLength="38" lengthAdjust="spacingAndGlyphs">DCO rules</text><circle class="r" cx="1269" cy="695"/></g>
<g id="R87"><text x="1050" y="707.5" textLength="145" lengthAdjust="spacingAndGlyphs">Exemption under Consumer Leasing</text><circle class="c" cx="1204" cy="704"/><circle class="p" cx="1214" cy="704"/></g>
<g id="R88"><text x="1260" y="712.5" textLength="113" lengthAdjust="spacingAndGlyphs">Homeownership counseling</text><circle class="c" cx="1381" cy="709"/></g>
<g id="R89"><text x="1170" y="722.5" textLength="105" lengthAdjust="spacingAndGlyphs">FCM and DCO segregation</text><circle class="r" cx="1282" cy="719"/></g>
<g id="R90"><text x="1072" y="729.5" textLength="69" lengthAdjust="spacingAndGlyphs">Municipal advisor</text><circle class="n" cx="1150" cy="726"/></g>
<g id="R91"><text x="1238" y="736.5" textLength="121" lengthAdjust="spacingAndGlyphs">References to NRSRO removed</text><circle class="o" cx="1366" cy="733"/></g>
<g id="R92"><text x="1112" y="745.5" textLength="107" lengthAdjust="spacingAndGlyphs">Margin for uncleared swap</text><circle class="r" cx="1227" cy="742"/></g>
<g id="R93"><text x="1248" y="750.5" textLength="121" lengthAdjust="spacingAndGlyphs">Capital rules (Regs H, Q, and Y)</text><circle class="p" cx="1379" cy="747"/><circle class="g" cx="1391" cy="747"/></g>
<g id="R94"><text x="1150" y="760.5" textLength="96" lengthAdjust="spacingAndGlyphs">Equal credit opportunity</text><circle class="c" cx="1252" cy="757"/></g>
<g id="R95"><text x="1041" y="769.5" textLength="52" lengthAdjust="spacingAndGlyphs">Stress testing</text><circle class="o" cx="1100" cy="766"/></g>
<g id="R96"><text x="1242" y="776.5" textLength="166" lengthAdjust="spacingAndGlyphs">Retail commodity transactions under CEA</text><circle class="r" cx="1415" cy="773"/></g>
<g id="R97"><text x="951" y="785.5" textLength="270" lengthAdjust="spacingAndGlyphs">Supervision and regulation assessment for bank holding companies</text><circle class="p" cx="1232" cy="782"/></g>
<g id="R98"><text x="1287" y="791.5" textLength="79" lengthAdjust="spacingAndGlyphs">Clearing exemption</text><circle class="r" cx="1374" cy="788"/></g>
<g id="R99"><text x="1178" y="800.5" textLength="112" lengthAdjust="spacingAndGlyphs">Broker-dealer annual reports</text><circle class="n" cx="1298" cy="797"/></g>
<g id="R100"><text x="1002" y="808.5" textLength="156" lengthAdjust="spacingAndGlyphs">Enhanced risk management for SIDCOs</text><circle class="r" cx="1166" cy="805"/></g>
<g id="R101"><text x="1180" y="816.5" textLength="238" lengthAdjust="spacingAndGlyphs">Mortgage rules under Real Estate Settlement Procedures Act</text><circle class="c" cx="1426" cy="813"/></g>
<g id="R102"><text x="966" y="825.5" textLength="182" lengthAdjust="spacingAndGlyphs">Bad actors disqualified from Rule 506 offering</text><circle class="n" cx="1155" cy="822"/></g>
<g id="R103"><text x="1242" y="833.5" textLength="94" lengthAdjust="spacingAndGlyphs">Retail forex transactions</text><circle class="n" cx="1342" cy="830"/></g>
</g>
</svg>
